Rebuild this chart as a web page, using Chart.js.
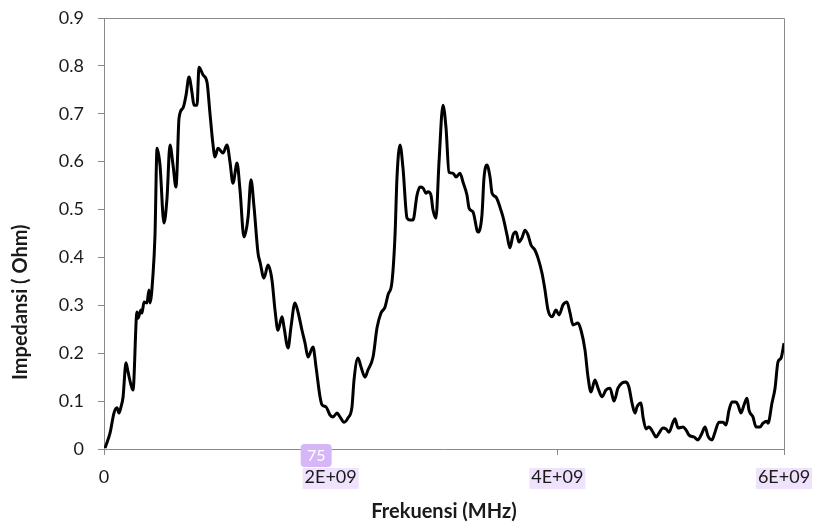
<!DOCTYPE html>
<html>
<head>
<meta charset="utf-8">
<script src="https://cdn.jsdelivr.net/npm/chart.js@4"></script>
<style>
  body { margin: 0; background: #fff; }
  canvas { display: block; }
</style>
</head>
<body>
<canvas id="grafik" width="814" height="527"></canvas>
<script>
// frekuensi dalam GHz (dikali 1e9 saat dipakai), impedansi dalam Ohm
const frekuensiGHz = [
  0.009, 0.053, 0.088, 0.115, 0.132, 0.150, 0.168, 0.194, 0.212, 0.238,
  0.256, 0.291, 0.300, 0.326, 0.335, 0.353, 0.379, 0.397, 0.406, 0.432,
  0.450, 0.468, 0.494, 0.529, 0.556, 0.582, 0.609, 0.635, 0.644, 0.662,
  0.697, 0.724, 0.750, 0.776, 0.794, 0.821, 0.838, 0.874, 0.909, 0.935,
  0.962, 0.979, 1.006, 1.050, 1.085, 1.112, 1.138, 1.174, 1.200, 1.235,
  1.271, 1.297, 1.324, 1.359, 1.377, 1.412, 1.447, 1.482, 1.509, 1.535,
  1.571, 1.588, 1.624, 1.650, 1.685, 1.712, 1.747, 1.774, 1.800, 1.844,
  1.871, 1.906, 1.924, 1.959, 1.994, 2.021, 2.056, 2.082, 2.118, 2.153,
  2.188, 2.206, 2.241, 2.268, 2.303, 2.329, 2.374, 2.409, 2.444, 2.479,
  2.506, 2.541, 2.568, 2.585, 2.612, 2.638, 2.674, 2.700, 2.726, 2.762,
  2.788, 2.815, 2.841, 2.859, 2.885, 2.903, 2.929, 2.956, 2.991, 3.018,
  3.044, 3.079, 3.106, 3.141, 3.168, 3.203, 3.221, 3.256, 3.300, 3.335,
  3.353, 3.379, 3.406, 3.424, 3.459, 3.494, 3.521, 3.556, 3.582, 3.609,
  3.635, 3.662, 3.688, 3.715, 3.741, 3.768, 3.803, 3.829, 3.865, 3.891,
  3.918, 3.953, 3.988, 4.015, 4.050, 4.085, 4.112, 4.138, 4.182, 4.209,
  4.244, 4.271, 4.297, 4.332, 4.359, 4.394, 4.429, 4.465, 4.500, 4.535,
  4.571, 4.606, 4.632, 4.659, 4.685, 4.703, 4.738, 4.756, 4.782, 4.809,
  4.844, 4.871, 4.897, 4.932, 4.959, 4.985, 5.021, 5.038, 5.065, 5.109,
  5.135, 5.162, 5.206, 5.241, 5.276, 5.303, 5.329, 5.365, 5.391, 5.426,
  5.462, 5.488, 5.515, 5.541, 5.576, 5.594, 5.621, 5.647, 5.674, 5.691,
  5.726, 5.753, 5.788, 5.815, 5.850, 5.859, 5.894, 5.921, 5.947, 5.974,
  6.000
]
const impedansi = [
  0.002, 0.033, 0.075, 0.086, 0.075, 0.088, 0.108, 0.180, 0.161, 0.134,
  0.123, 0.286, 0.273, 0.290, 0.284, 0.307, 0.305, 0.332, 0.305, 0.363,
  0.447, 0.628, 0.593, 0.472, 0.524, 0.635, 0.593, 0.547, 0.578, 0.691,
  0.712, 0.739, 0.777, 0.745, 0.718, 0.718, 0.797, 0.781, 0.766, 0.701,
  0.635, 0.610, 0.628, 0.618, 0.635, 0.599, 0.555, 0.597, 0.541, 0.443,
  0.484, 0.562, 0.505, 0.409, 0.390, 0.357, 0.384, 0.353, 0.290, 0.248,
  0.276, 0.255, 0.211, 0.255, 0.305, 0.286, 0.248, 0.221, 0.192, 0.213,
  0.171, 0.109, 0.092, 0.088, 0.071, 0.067, 0.075, 0.067, 0.056, 0.065,
  0.088, 0.144, 0.190, 0.171, 0.150, 0.165, 0.192, 0.253, 0.284, 0.296,
  0.322, 0.349, 0.447, 0.566, 0.635, 0.587, 0.482, 0.478, 0.478, 0.530,
  0.547, 0.545, 0.534, 0.537, 0.530, 0.499, 0.482, 0.599, 0.718, 0.670,
  0.578, 0.576, 0.568, 0.576, 0.557, 0.530, 0.503, 0.495, 0.453, 0.489,
  0.566, 0.593, 0.568, 0.534, 0.526, 0.505, 0.484, 0.447, 0.420, 0.447,
  0.453, 0.432, 0.441, 0.457, 0.447, 0.426, 0.415, 0.399, 0.367, 0.332,
  0.290, 0.276, 0.290, 0.280, 0.301, 0.307, 0.284, 0.259, 0.263, 0.248,
  0.207, 0.150, 0.119, 0.144, 0.127, 0.109, 0.123, 0.127, 0.100, 0.127,
  0.138, 0.140, 0.129, 0.096, 0.075, 0.088, 0.096, 0.067, 0.042, 0.046,
  0.035, 0.025, 0.033, 0.044, 0.042, 0.035, 0.056, 0.063, 0.044, 0.046,
  0.040, 0.029, 0.025, 0.019, 0.033, 0.046, 0.027, 0.019, 0.035, 0.056,
  0.056, 0.050, 0.081, 0.098, 0.098, 0.092, 0.075, 0.092, 0.106, 0.081,
  0.067, 0.046, 0.046, 0.054, 0.058, 0.054, 0.096, 0.127, 0.182, 0.190,
  0.221
]

const xTicks = [0, 2e9, 4e9, 6e9]
const xTickLabels = ['0', '2E+09', '4E+09', '6E+09']
const yTicks = [0, 0.1, 0.2, 0.3, 0.4, 0.5, 0.6, 0.7, 0.8, 0.9]
const yTickLabels = ['0', '0.1', '0.2', '0.3', '0.4', '0.5', '0.6', '0.7', '0.8', '0.9']

// label yang di-highlight (ungu muda) dan badge "75"
const labelDisorot = ['2E+09', '4E+09', '6E+09']
const badge = { teks: '75', nilai: 2e9 }
const judulY = 'Impedansi ( Ohm)'

const abu = '#8a8a8a'
const huruf = 'Lato'
const warnaTeks = '#1a1a1a'

const sorotan = {
  id: 'sorotan',
  beforeDraw(chart) {
    const ctx = chart.ctx
    const sx = chart.scales.x
    ctx.save()
    ctx.fillStyle = '#efe2fd'
    xTicks.forEach((v, i) => {
      if (!labelDisorot.includes(xTickLabels[i])) return
      const px = sx.getPixelForValue(v)
      ctx.fillRect(px - 28, 468, 56, 21)
    })
    ctx.restore()
  },
  beforeDatasetsDraw(chart) {
    const { ctx, chartArea } = chart
    ctx.save()
    ctx.strokeStyle = abu
    ctx.lineWidth = 1
    ctx.beginPath()
    ctx.moveTo(chartArea.left, chartArea.top + 0.5)
    ctx.lineTo(chartArea.right + 0.5, chartArea.top + 0.5)
    ctx.lineTo(chartArea.right + 0.5, chartArea.bottom)
    ctx.stroke()
    ctx.restore()
  },
  afterDraw(chart) {
    const ctx = chart.ctx
    const px = chart.scales.x.getPixelForValue(badge.nilai)
    ctx.save()
    ctx.fillStyle = '#d7b6f8'
    ctx.beginPath()
    ctx.roundRect(px - 30, 444, 31, 23, 4)
    ctx.fill()
    ctx.fillStyle = '#ffffff'
    ctx.font = '16px ' + huruf
    ctx.textAlign = 'center'
    ctx.textBaseline = 'middle'
    ctx.fillText(badge.teks, px - 14.5, 456)
    ctx.restore()

    // judul sumbu Y, agak ke bawah seperti di gambar asli
    ctx.save()
    ctx.translate(21, 380)
    ctx.rotate(-Math.PI / 2)
    ctx.fillStyle = warnaTeks
    ctx.font = 'bold 20px ' + huruf
    ctx.textAlign = 'left'
    ctx.textBaseline = 'middle'
    ctx.fillText(judulY, 0, 0)
    ctx.restore()
  }
}

const grafik = new Chart(document.querySelector('#grafik'), {
  type: 'line',
  data: {
    datasets: [{
      label: 'Impedansi',
      data: frekuensiGHz.map((f, i) => ({ x: f * 1e9, y: impedansi[i] })),
      borderColor: '#000000',
      borderWidth: 3,
      pointRadius: 0,
      cubicInterpolationMode: 'monotone',
      fill: false
    }]
  },
  options: {
    responsive: false,
    animation: false,
    devicePixelRatio: 1,
    layout: { padding: { top: 18, right: 30, left: 0, bottom: 0 } },
    plugins: {
      legend: { display: false },
      tooltip: { enabled: false }
    },
    scales: {
      x: {
        type: 'linear',
        min: 0,
        max: 6e9,
        afterBuildTicks: (s) => { s.ticks = xTicks.map(v => ({ value: v })) },
        afterFit: (s) => { s.height = 78; s.paddingLeft = 0; s.paddingRight = 0 },
        ticks: {
          autoSkip: false,
          maxRotation: 0,
          padding: 11,
          color: warnaTeks,
          font: { family: huruf, size: 18 },
          callback: (v, i) => xTickLabels[i]
        },
        grid: { drawOnChartArea: false, drawTicks: true, tickLength: 6, color: abu },
        border: { color: abu, width: 1 },
        title: {
          display: true,
          text: 'Frekuensi (MHz)',
          color: warnaTeks,
          font: { family: huruf, size: 20, weight: 'bold' },
          padding: { top: 0, bottom: 3 }
        }
      },
      y: {
        min: 0,
        max: 0.9,
        afterBuildTicks: (s) => { s.ticks = yTicks.map(v => ({ value: v })) },
        afterFit: (s) => { s.width = 104; s.paddingTop = 0; s.paddingBottom = 0 },
        ticks: {
          padding: 14,
          color: warnaTeks,
          font: { family: huruf, size: 18 },
          callback: (v, i) => yTickLabels[i]
        },
        grid: { drawOnChartArea: false, drawTicks: true, tickLength: 6, color: abu },
        border: { color: abu, width: 1 }
      }
    }
  },
  plugins: [sorotan]
})
</script>
</body>
</html>
